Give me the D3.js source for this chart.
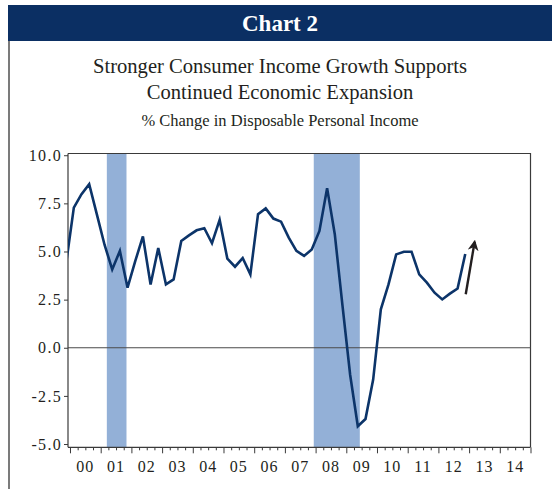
<!DOCTYPE html>
<html>
<head>
<meta charset="utf-8">
<script src="https://cdn.jsdelivr.net/npm/d3@7"></script>
<style>
  body { margin: 0; background: #fff; }
  svg { display: block; font-family: "Liberation Serif", "Times New Roman", serif; }
</style>
</head>
<body>
<svg id="chart"></svg>
<script>
const quarters = [
  "1999Q4",
  "2000Q1","2000Q2","2000Q3","2000Q4",
  "2001Q1","2001Q2","2001Q3","2001Q4",
  "2002Q1","2002Q2","2002Q3","2002Q4",
  "2003Q1","2003Q2","2003Q3","2003Q4",
  "2004Q1","2004Q2","2004Q3","2004Q4",
  "2005Q1","2005Q2","2005Q3","2005Q4",
  "2006Q1","2006Q2","2006Q3","2006Q4",
  "2007Q1","2007Q2","2007Q3","2007Q4",
  "2008Q1","2008Q2","2008Q3","2008Q4",
  "2009Q1","2009Q2","2009Q3","2009Q4",
  "2010Q1","2010Q2","2010Q3","2010Q4",
  "2011Q1","2011Q2","2011Q3","2011Q4",
  "2012Q1","2012Q2","2012Q3","2012Q4"
];
const incomeGrowth = [
  4.4,
  7.28, 7.98, 8.5, 6.93,
  5.35, 4.07, 5.03, 3.12,
  4.5, 5.78, 3.29, 5.18,
  3.29, 3.55, 5.55, 5.84,
  6.1, 6.21, 5.43, 6.64,
  4.63, 4.21, 4.66, 3.81,
  6.94, 7.24, 6.71, 6.55,
  5.72, 5.03, 4.77, 5.11,
  6.07, 8.29, 5.9, 2.2,
  -1.4, -4.08, -3.7, -1.65,
  2.0, 3.29, 4.85, 4.99,
  4.99, 3.81, 3.38, 2.86,
  2.51, 2.81, 3.08, 4.87
];
const yTicks = [-5, -2.5, 0, 2.5, 5, 7.5, 10];
const yearLabels = ["00","01","02","03","04","05","06","07","08","09","10","11","12","13","14"];
const recessionStart = [2001.2, 2007.94];
const recessionEnd = [2001.84, 2009.44];
// arrow annotation, in data units (year, %)
const arrowFrom = [2012.89, 2.78];
const arrowTo = [2013.18, 5.5];

const width = 552, height = 489;
const plot = { left: 68, right: 530.5, top: 153.5, bottom: 447.3 };
const navy = "#0b2f63";
const lineColor = "#0c3469";
const bandColor = "#93b0d7";
const textColor = "#231f20";

const svg = d3.select("#chart").attr("width", width).attr("height", height);

// header bar
svg.append("rect").attr("x", 8).attr("y", 5).attr("width", width - 8).attr("height", 36).attr("fill", navy);
svg.append("text").attr("x", 280).attr("y", 31).attr("text-anchor", "middle")
   .attr("fill", "#fff").attr("font-weight", "bold").attr("font-size", 23).text("Chart 2");
// left border
svg.append("line").attr("x1", 9).attr("x2", 9).attr("y1", 41).attr("y2", height)
   .attr("stroke", "#7b7b7b").attr("stroke-width", 2);

// titles
const titles = [
  { text: "Stronger Consumer Income Growth Supports", y: 73, size: 20.6 },
  { text: "Continued Economic Expansion", y: 99, size: 20.6 },
  { text: "% Change in Disposable Personal Income", y: 126, size: 16.5 }
];
svg.selectAll(".title").data(titles).enter().append("text")
   .attr("class", "title")
   .attr("x", 280).attr("y", d => d.y).attr("text-anchor", "middle")
   .attr("font-size", d => d.size).attr("fill", textColor).text(d => d.text);

// scales
const x = d3.scaleLinear().domain([1999.935, 2015]).range([plot.left, plot.right]);
const y = d3.scaleLinear().domain([-5.17, 10.09]).range([plot.bottom, plot.top]);

const toTime = q => +q.slice(0, 4) + (+q.slice(5) - 1) / 4 + 0.125;
const data = quarters.map((q, i) => ({ t: toTime(q), v: incomeGrowth[i] }));

svg.append("clipPath").attr("id", "clip").append("rect")
   .attr("x", plot.left).attr("y", plot.top)
   .attr("width", plot.right - plot.left).attr("height", plot.bottom - plot.top);

// recession bands
svg.selectAll(".band").data(recessionStart).enter().append("rect")
   .attr("class", "band")
   .attr("x", (d, i) => x(d)).attr("y", plot.top)
   .attr("width", (d, i) => x(recessionEnd[i]) - x(d))
   .attr("height", plot.bottom - plot.top)
   .attr("fill", bandColor);

// frame top/right
svg.append("path")
   .attr("d", `M${plot.left},${plot.top}H${plot.right}V${plot.bottom}`)
   .attr("fill", "none").attr("stroke", "#3a3a3a").attr("stroke-width", 1.2);

// zero line
svg.append("line").attr("x1", plot.left).attr("x2", plot.right)
   .attr("y1", y(0)).attr("y2", y(0)).attr("stroke", "#4a4a4a").attr("stroke-width", 1.2);

// y axis
const fmt = d => d3.format(".1f")(d).replace("\u2212", "-");
const yAxis = svg.append("g").attr("transform", `translate(${plot.left},0)`)
   .call(d3.axisLeft(y).tickValues(yTicks).tickFormat(fmt).tickSize(4).tickPadding(2));
yAxis.select(".domain").attr("d", `M0,${plot.top}V${plot.bottom}`).attr("stroke", "#3a3a3a").attr("stroke-width", 1.2);
yAxis.selectAll(".tick line").attr("stroke", "#3a3a3a");
yAxis.selectAll("text").attr("font-size", 16).attr("fill", textColor)
   .attr("font-family", "Liberation Serif, serif").style("letter-spacing", "1.3px");

// x axis: quarterly minor ticks, yearly major ticks
const quarterTicks = d3.range(2000, 2015.01, 0.25);
const xAxis = svg.append("g").attr("transform", `translate(0,${plot.bottom})`)
   .call(d3.axisBottom(x).tickValues(quarterTicks).tickSize(3).tickFormat(""));
xAxis.select(".domain").attr("d", `M${plot.left},0H${plot.right}`).attr("stroke", "#3a3a3a").attr("stroke-width", 1.2);
xAxis.selectAll(".tick line").attr("stroke", "#3a3a3a")
   .attr("y2", d => Number.isInteger(d) ? 6 : 3);
svg.append("g").selectAll("text").data(yearLabels).enter().append("text")
   .attr("x", (d, i) => x(2000 + i + 0.5)).attr("y", 472)
   .attr("text-anchor", "middle").attr("font-size", 16).attr("fill", textColor)
   .style("letter-spacing", "1px").text(d => d);

// income line
svg.append("path").datum(data)
   .attr("clip-path", "url(#clip)")
   .attr("fill", "none").attr("stroke", lineColor).attr("stroke-width", 2.6)
   .attr("stroke-linejoin", "miter")
   .attr("d", d3.line().x(d => x(d.t)).y(d => y(d.v)));

// arrow
svg.append("defs").append("marker")
   .attr("id", "head").attr("viewBox", "0 0 10 10").attr("refX", 8).attr("refY", 5)
   .attr("markerWidth", 4.5).attr("markerHeight", 4.5).attr("orient", "auto")
   .append("path").attr("d", "M0,0L10,5L0,10L3,5Z").attr("fill", textColor);
svg.append("line")
   .attr("x1", x(arrowFrom[0])).attr("y1", y(arrowFrom[1]))
   .attr("x2", x(arrowTo[0])).attr("y2", y(arrowTo[1]))
   .attr("stroke", textColor).attr("stroke-width", 2.4).attr("marker-end", "url(#head)");
</script>
</body>
</html>
